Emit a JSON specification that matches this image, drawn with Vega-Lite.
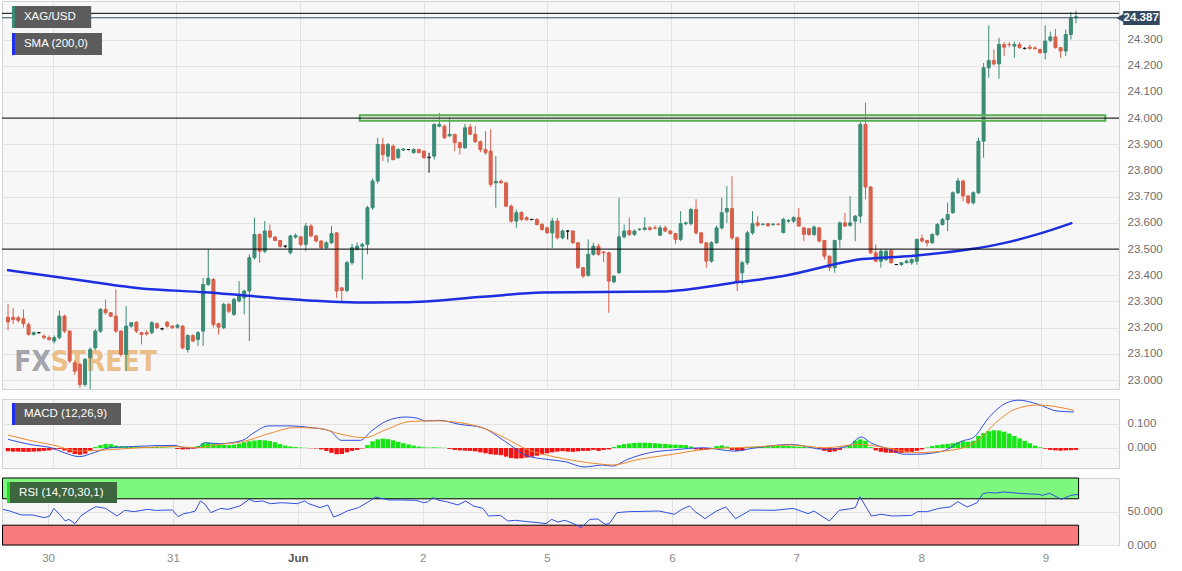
{
"$schema": "https://vega.github.io/schema/vega-lite/v6.json",
"padding": 0,
"background": "#ffffff",
"spacing": 7,
"config": {
 "view": {"stroke": "#cfd3d9", "fill": "#f7f7f7"},
 "font": "Liberation Sans",
 "axis": {"domain": false, "ticks": false, "gridColor": "#e3e3e3", "labelColor": "#6e6e6e", "labelFontSize": 11.5, "labelFont": "Liberation Sans", "labelFlush": false, "labelOverlap": false}
},
"datasets": {
 "one": [{}],
 "candles": [
{"k":0,"o":23.24,"h":23.29,"l":23.19,"c":23.222,"hist":-0.014},
{"k":1,"o":23.24,"h":23.276,"l":23.214,"c":23.231,"hist":-0.015},
{"k":2,"o":23.238,"h":23.245,"l":23.22,"c":23.228,"hist":-0.015},
{"k":3,"o":23.234,"h":23.27,"l":23.2,"c":23.215,"hist":-0.016},
{"k":4,"o":23.212,"h":23.22,"l":23.17,"c":23.174,"hist":-0.016},
{"k":5,"o":23.174,"h":23.185,"l":23.17,"c":23.181,"hist":-0.015},
{"k":6,"o":23.181,"h":23.183,"l":23.178,"c":23.181,"hist":-0.014},
{"k":7,"o":23.168,"h":23.175,"l":23.155,"c":23.162,"hist":-0.012},
{"k":8,"o":23.162,"h":23.17,"l":23.15,"c":23.155,"hist":-0.01},
{"k":9,"o":23.149,"h":23.17,"l":23.14,"c":23.162,"hist":-0.006},
{"k":10,"o":23.162,"h":23.265,"l":23.155,"c":23.244,"hist":-0.004},
{"k":11,"o":23.244,"h":23.25,"l":23.18,"c":23.187,"hist":-0.01},
{"k":12,"o":23.187,"h":23.19,"l":23.065,"c":23.073,"hist":-0.018},
{"k":13,"o":23.066,"h":23.075,"l":23.02,"c":23.034,"hist":-0.025},
{"k":14,"o":23.06,"h":23.065,"l":22.97,"c":22.983,"hist":-0.028},
{"k":15,"o":22.983,"h":23.085,"l":22.975,"c":23.079,"hist":-0.024},
{"k":16,"o":23.085,"h":23.125,"l":22.96,"c":23.117,"hist":-0.012},
{"k":17,"o":23.123,"h":23.195,"l":23.115,"c":23.187,"hist":0.004},
{"k":18,"o":23.187,"h":23.275,"l":23.18,"c":23.27,"hist":0.012},
{"k":19,"o":23.27,"h":23.308,"l":23.25,"c":23.257,"hist":0.017},
{"k":20,"o":23.257,"h":23.26,"l":23.24,"c":23.244,"hist":0.016},
{"k":21,"o":23.244,"h":23.346,"l":23.18,"c":23.187,"hist":0.01},
{"k":22,"o":23.187,"h":23.19,"l":23.09,"c":23.098,"hist":0.007},
{"k":23,"o":23.098,"h":23.282,"l":23.034,"c":23.206,"hist":0.006},
{"k":24,"o":23.206,"h":23.22,"l":23.2,"c":23.219,"hist":0.005},
{"k":25,"o":23.221,"h":23.225,"l":23.18,"c":23.187,"hist":0.004},
{"k":26,"o":23.181,"h":23.185,"l":23.136,"c":23.174,"hist":0.004},
{"k":27,"o":23.181,"h":23.19,"l":23.17,"c":23.176,"hist":0.003},
{"k":28,"o":23.181,"h":23.225,"l":23.175,"c":23.219,"hist":0.004},
{"k":29,"o":23.215,"h":23.22,"l":23.195,"c":23.2,"hist":0.004},
{"k":30,"o":23.196,"h":23.2,"l":23.19,"c":23.196,"hist":0.003},
{"k":31,"o":23.221,"h":23.225,"l":23.2,"c":23.206,"hist":0.002},
{"k":32,"o":23.206,"h":23.21,"l":23.195,"c":23.2,"hist":0.001},
{"k":33,"o":23.202,"h":23.215,"l":23.196,"c":23.209,"hist":-0.004},
{"k":34,"o":23.206,"h":23.21,"l":23.117,"c":23.123,"hist":-0.006},
{"k":35,"o":23.117,"h":23.175,"l":23.105,"c":23.17,"hist":-0.005},
{"k":36,"o":23.17,"h":23.175,"l":23.145,"c":23.149,"hist":-0.003},
{"k":37,"o":23.155,"h":23.187,"l":23.13,"c":23.181,"hist":0.008},
{"k":38,"o":23.187,"h":23.39,"l":23.13,"c":23.365,"hist":0.02},
{"k":39,"o":23.365,"h":23.5,"l":23.36,"c":23.388,"hist":0.022},
{"k":40,"o":23.384,"h":23.39,"l":23.2,"c":23.212,"hist":0.018},
{"k":41,"o":23.215,"h":23.22,"l":23.174,"c":23.202,"hist":0.014},
{"k":42,"o":23.2,"h":23.295,"l":23.195,"c":23.289,"hist":0.013},
{"k":43,"o":23.289,"h":23.295,"l":23.255,"c":23.263,"hist":0.012},
{"k":44,"o":23.251,"h":23.315,"l":23.245,"c":23.308,"hist":0.014},
{"k":45,"o":23.302,"h":23.378,"l":23.297,"c":23.327,"hist":0.018},
{"k":46,"o":23.314,"h":23.345,"l":23.251,"c":23.34,"hist":0.024},
{"k":47,"o":23.34,"h":23.48,"l":23.149,"c":23.467,"hist":0.028},
{"k":48,"o":23.467,"h":23.62,"l":23.46,"c":23.556,"hist":0.031},
{"k":49,"o":23.556,"h":23.56,"l":23.448,"c":23.492,"hist":0.033},
{"k":50,"o":23.492,"h":23.607,"l":23.485,"c":23.569,"hist":0.032},
{"k":51,"o":23.569,"h":23.594,"l":23.54,"c":23.546,"hist":0.029},
{"k":52,"o":23.546,"h":23.55,"l":23.53,"c":23.533,"hist":0.024},
{"k":53,"o":23.533,"h":23.535,"l":23.505,"c":23.511,"hist":0.016},
{"k":54,"o":23.511,"h":23.515,"l":23.505,"c":23.511,"hist":0.01},
{"k":55,"o":23.486,"h":23.555,"l":23.48,"c":23.55,"hist":0.006},
{"k":56,"o":23.546,"h":23.56,"l":23.54,"c":23.552,"hist":0.004},
{"k":57,"o":23.547,"h":23.55,"l":23.51,"c":23.518,"hist":0.002},
{"k":58,"o":23.518,"h":23.6,"l":23.492,"c":23.588,"hist":0.001},
{"k":59,"o":23.588,"h":23.595,"l":23.545,"c":23.55,"hist":-0.001},
{"k":60,"o":23.55,"h":23.555,"l":23.525,"c":23.531,"hist":-0.002},
{"k":61,"o":23.531,"h":23.535,"l":23.5,"c":23.505,"hist":-0.006},
{"k":62,"o":23.505,"h":23.53,"l":23.5,"c":23.524,"hist":-0.012},
{"k":63,"o":23.524,"h":23.588,"l":23.52,"c":23.559,"hist":-0.02},
{"k":64,"o":23.562,"h":23.565,"l":23.314,"c":23.34,"hist":-0.026},
{"k":65,"o":23.352,"h":23.355,"l":23.295,"c":23.342,"hist":-0.025},
{"k":66,"o":23.342,"h":23.455,"l":23.335,"c":23.448,"hist":-0.018},
{"k":67,"o":23.448,"h":23.52,"l":23.44,"c":23.505,"hist":-0.012},
{"k":68,"o":23.499,"h":23.525,"l":23.495,"c":23.511,"hist":-0.008},
{"k":69,"o":23.511,"h":23.524,"l":23.384,"c":23.518,"hist":-0.002},
{"k":70,"o":23.518,"h":23.665,"l":23.48,"c":23.658,"hist":0.012},
{"k":71,"o":23.658,"h":23.77,"l":23.65,"c":23.76,"hist":0.028},
{"k":72,"o":23.76,"h":23.925,"l":23.75,"c":23.899,"hist":0.036},
{"k":73,"o":23.899,"h":23.925,"l":23.836,"c":23.861,"hist":0.039},
{"k":74,"o":23.855,"h":23.905,"l":23.83,"c":23.899,"hist":0.037},
{"k":75,"o":23.893,"h":23.9,"l":23.838,"c":23.842,"hist":0.032},
{"k":76,"o":23.849,"h":23.885,"l":23.845,"c":23.88,"hist":0.026},
{"k":77,"o":23.878,"h":23.885,"l":23.875,"c":23.882,"hist":0.02},
{"k":78,"o":23.88,"h":23.882,"l":23.877,"c":23.88,"hist":0.015},
{"k":79,"o":23.868,"h":23.885,"l":23.865,"c":23.88,"hist":0.01},
{"k":80,"o":23.88,"h":23.883,"l":23.865,"c":23.868,"hist":0.006},
{"k":81,"o":23.874,"h":23.877,"l":23.845,"c":23.849,"hist":0.003},
{"k":82,"o":23.85,"h":23.868,"l":23.791,"c":23.85,"hist":0.002},
{"k":83,"o":23.855,"h":23.98,"l":23.842,"c":23.976,"hist":0.003},
{"k":84,"o":23.969,"h":24.02,"l":23.965,"c":23.976,"hist":0.002},
{"k":85,"o":23.969,"h":23.975,"l":23.92,"c":23.925,"hist":0.001},
{"k":86,"o":23.932,"h":24.004,"l":23.93,"c":23.938,"hist":-0.004},
{"k":87,"o":23.938,"h":23.94,"l":23.874,"c":23.906,"hist":-0.008},
{"k":88,"o":23.906,"h":23.91,"l":23.861,"c":23.887,"hist":-0.01},
{"k":89,"o":23.887,"h":23.978,"l":23.882,"c":23.963,"hist":-0.011},
{"k":90,"o":23.966,"h":23.978,"l":23.935,"c":23.938,"hist":-0.012},
{"k":91,"o":23.938,"h":23.97,"l":23.905,"c":23.91,"hist":-0.014},
{"k":92,"o":23.91,"h":23.915,"l":23.87,"c":23.88,"hist":-0.018},
{"k":93,"o":23.88,"h":23.95,"l":23.86,"c":23.868,"hist":-0.022},
{"k":94,"o":23.874,"h":23.957,"l":23.737,"c":23.747,"hist":-0.026},
{"k":95,"o":23.753,"h":23.855,"l":23.658,"c":23.759,"hist":-0.028},
{"k":96,"o":23.759,"h":23.765,"l":23.75,"c":23.753,"hist":-0.03},
{"k":97,"o":23.753,"h":23.757,"l":23.66,"c":23.664,"hist":-0.036},
{"k":98,"o":23.664,"h":23.67,"l":23.6,"c":23.607,"hist":-0.042},
{"k":99,"o":23.607,"h":23.651,"l":23.581,"c":23.639,"hist":-0.044},
{"k":100,"o":23.639,"h":23.645,"l":23.608,"c":23.613,"hist":-0.043},
{"k":101,"o":23.62,"h":23.625,"l":23.608,"c":23.612,"hist":-0.04},
{"k":102,"o":23.613,"h":23.616,"l":23.61,"c":23.613,"hist":-0.036},
{"k":103,"o":23.613,"h":23.618,"l":23.59,"c":23.594,"hist":-0.032},
{"k":104,"o":23.594,"h":23.6,"l":23.57,"c":23.575,"hist":-0.027},
{"k":105,"o":23.581,"h":23.587,"l":23.558,"c":23.562,"hist":-0.022},
{"k":106,"o":23.562,"h":23.62,"l":23.505,"c":23.607,"hist":-0.018},
{"k":107,"o":23.607,"h":23.62,"l":23.537,"c":23.543,"hist":-0.015},
{"k":108,"o":23.543,"h":23.575,"l":23.537,"c":23.569,"hist":-0.013},
{"k":109,"o":23.569,"h":23.572,"l":23.537,"c":23.569,"hist":-0.015},
{"k":110,"o":23.569,"h":23.572,"l":23.52,"c":23.524,"hist":-0.016},
{"k":111,"o":23.524,"h":23.527,"l":23.425,"c":23.429,"hist":-0.014},
{"k":112,"o":23.429,"h":23.432,"l":23.39,"c":23.397,"hist":-0.012},
{"k":113,"o":23.4,"h":23.537,"l":23.395,"c":23.48,"hist":-0.012},
{"k":114,"o":23.48,"h":23.525,"l":23.475,"c":23.511,"hist":-0.008},
{"k":115,"o":23.511,"h":23.52,"l":23.475,"c":23.48,"hist":-0.012},
{"k":116,"o":23.489,"h":23.492,"l":23.45,"c":23.486,"hist":-0.008},
{"k":117,"o":23.486,"h":23.49,"l":23.257,"c":23.378,"hist":-0.006},
{"k":118,"o":23.375,"h":23.4,"l":23.37,"c":23.397,"hist":0.004},
{"k":119,"o":23.41,"h":23.696,"l":23.405,"c":23.547,"hist":0.012},
{"k":120,"o":23.547,"h":23.594,"l":23.54,"c":23.569,"hist":0.016},
{"k":121,"o":23.571,"h":23.62,"l":23.55,"c":23.556,"hist":0.019},
{"k":122,"o":23.556,"h":23.575,"l":23.55,"c":23.569,"hist":0.021},
{"k":123,"o":23.575,"h":23.58,"l":23.57,"c":23.576,"hist":0.022},
{"k":124,"o":23.575,"h":23.622,"l":23.57,"c":23.581,"hist":0.022},
{"k":125,"o":23.581,"h":23.588,"l":23.57,"c":23.575,"hist":0.021},
{"k":126,"o":23.581,"h":23.59,"l":23.575,"c":23.58,"hist":0.02},
{"k":127,"o":23.553,"h":23.59,"l":23.55,"c":23.581,"hist":0.018},
{"k":128,"o":23.581,"h":23.59,"l":23.565,"c":23.569,"hist":0.017},
{"k":129,"o":23.569,"h":23.572,"l":23.555,"c":23.559,"hist":0.015},
{"k":130,"o":23.559,"h":23.562,"l":23.52,"c":23.537,"hist":0.014},
{"k":131,"o":23.537,"h":23.645,"l":23.53,"c":23.597,"hist":0.013},
{"k":132,"o":23.597,"h":23.605,"l":23.59,"c":23.6,"hist":0.012},
{"k":133,"o":23.597,"h":23.658,"l":23.59,"c":23.651,"hist":0.006},
{"k":134,"o":23.651,"h":23.69,"l":23.555,"c":23.562,"hist":-0.006},
{"k":135,"o":23.562,"h":23.565,"l":23.52,"c":23.524,"hist":-0.009},
{"k":136,"o":23.524,"h":23.527,"l":23.429,"c":23.454,"hist":-0.008},
{"k":137,"o":23.454,"h":23.53,"l":23.448,"c":23.524,"hist":-0.004},
{"k":138,"o":23.524,"h":23.59,"l":23.52,"c":23.581,"hist":0.008},
{"k":139,"o":23.581,"h":23.696,"l":23.575,"c":23.639,"hist":0.011},
{"k":140,"o":23.642,"h":23.74,"l":23.6,"c":23.655,"hist":0.006},
{"k":141,"o":23.655,"h":23.778,"l":23.535,"c":23.543,"hist":-0.008},
{"k":142,"o":23.543,"h":23.547,"l":23.34,"c":23.378,"hist":-0.012},
{"k":143,"o":23.41,"h":23.455,"l":23.365,"c":23.448,"hist":-0.01},
{"k":144,"o":23.448,"h":23.57,"l":23.44,"c":23.562,"hist":0.003},
{"k":145,"o":23.562,"h":23.645,"l":23.555,"c":23.597,"hist":0.005},
{"k":146,"o":23.6,"h":23.625,"l":23.585,"c":23.591,"hist":0.006},
{"k":147,"o":23.594,"h":23.6,"l":23.59,"c":23.595,"hist":0.007},
{"k":148,"o":23.597,"h":23.6,"l":23.585,"c":23.589,"hist":0.008},
{"k":149,"o":23.594,"h":23.6,"l":23.588,"c":23.595,"hist":0.008},
{"k":150,"o":23.595,"h":23.6,"l":23.59,"c":23.594,"hist":0.009},
{"k":151,"o":23.563,"h":23.62,"l":23.56,"c":23.613,"hist":0.009},
{"k":152,"o":23.607,"h":23.615,"l":23.6,"c":23.609,"hist":0.008},
{"k":153,"o":23.607,"h":23.625,"l":23.6,"c":23.62,"hist":0.007},
{"k":154,"o":23.62,"h":23.657,"l":23.585,"c":23.588,"hist":0.006},
{"k":155,"o":23.581,"h":23.585,"l":23.53,"c":23.556,"hist":0.004},
{"k":156,"o":23.578,"h":23.58,"l":23.55,"c":23.556,"hist":0.003},
{"k":157,"o":23.556,"h":23.59,"l":23.55,"c":23.584,"hist":0.001},
{"k":158,"o":23.581,"h":23.585,"l":23.525,"c":23.531,"hist":-0.004},
{"k":159,"o":23.533,"h":23.535,"l":23.46,"c":23.473,"hist":-0.012},
{"k":160,"o":23.473,"h":23.475,"l":23.416,"c":23.429,"hist":-0.017},
{"k":161,"o":23.429,"h":23.535,"l":23.41,"c":23.533,"hist":-0.014},
{"k":162,"o":23.537,"h":23.605,"l":23.505,"c":23.6,"hist":-0.008},
{"k":163,"o":23.6,"h":23.639,"l":23.585,"c":23.588,"hist":0.002},
{"k":164,"o":23.591,"h":23.702,"l":23.585,"c":23.6,"hist":0.012},
{"k":165,"o":23.607,"h":23.63,"l":23.53,"c":23.626,"hist":0.03},
{"k":166,"o":23.626,"h":23.985,"l":23.6,"c":23.976,"hist":0.036},
{"k":167,"o":23.976,"h":24.059,"l":23.69,"c":23.737,"hist":0.03},
{"k":168,"o":23.737,"h":23.74,"l":23.48,"c":23.486,"hist":0.004},
{"k":169,"o":23.486,"h":23.518,"l":23.45,"c":23.454,"hist":-0.01},
{"k":170,"o":23.454,"h":23.5,"l":23.429,"c":23.492,"hist":-0.016},
{"k":171,"o":23.46,"h":23.5,"l":23.455,"c":23.492,"hist":-0.019},
{"k":172,"o":23.495,"h":23.5,"l":23.445,"c":23.448,"hist":-0.02},
{"k":173,"o":23.441,"h":23.443,"l":23.439,"c":23.441,"hist":-0.021},
{"k":174,"o":23.441,"h":23.45,"l":23.435,"c":23.448,"hist":-0.02},
{"k":175,"o":23.448,"h":23.46,"l":23.445,"c":23.454,"hist":-0.019},
{"k":176,"o":23.448,"h":23.465,"l":23.44,"c":23.46,"hist":-0.016},
{"k":177,"o":23.454,"h":23.54,"l":23.44,"c":23.537,"hist":-0.012},
{"k":178,"o":23.54,"h":23.556,"l":23.525,"c":23.531,"hist":-0.006},
{"k":179,"o":23.533,"h":23.535,"l":23.51,"c":23.524,"hist":0.002},
{"k":180,"o":23.524,"h":23.56,"l":23.52,"c":23.556,"hist":0.008},
{"k":181,"o":23.556,"h":23.6,"l":23.55,"c":23.594,"hist":0.012},
{"k":182,"o":23.594,"h":23.62,"l":23.59,"c":23.613,"hist":0.015},
{"k":183,"o":23.613,"h":23.677,"l":23.569,"c":23.632,"hist":0.017},
{"k":184,"o":23.639,"h":23.72,"l":23.635,"c":23.715,"hist":0.02},
{"k":185,"o":23.715,"h":23.772,"l":23.71,"c":23.76,"hist":0.024},
{"k":186,"o":23.76,"h":23.765,"l":23.683,"c":23.703,"hist":0.028},
{"k":187,"o":23.703,"h":23.705,"l":23.67,"c":23.677,"hist":0.026},
{"k":188,"o":23.677,"h":23.72,"l":23.67,"c":23.715,"hist":0.03},
{"k":189,"o":23.715,"h":23.925,"l":23.71,"c":23.912,"hist":0.05},
{"k":190,"o":23.912,"h":24.21,"l":23.849,"c":24.192,"hist":0.062},
{"k":191,"o":24.192,"h":24.354,"l":24.154,"c":24.22,"hist":0.07},
{"k":192,"o":24.22,"h":24.262,"l":24.2,"c":24.207,"hist":0.074},
{"k":193,"o":24.207,"h":24.307,"l":24.15,"c":24.281,"hist":0.073},
{"k":194,"o":24.281,"h":24.29,"l":24.237,"c":24.271,"hist":0.068},
{"k":195,"o":24.281,"h":24.29,"l":24.27,"c":24.28,"hist":0.06},
{"k":196,"o":24.275,"h":24.292,"l":24.23,"c":24.281,"hist":0.05},
{"k":197,"o":24.281,"h":24.29,"l":24.265,"c":24.269,"hist":0.04},
{"k":198,"o":24.266,"h":24.27,"l":24.262,"c":24.266,"hist":0.03},
{"k":199,"o":24.271,"h":24.281,"l":24.262,"c":24.266,"hist":0.02},
{"k":200,"o":24.268,"h":24.275,"l":24.262,"c":24.265,"hist":0.01},
{"k":201,"o":24.262,"h":24.265,"l":24.245,"c":24.25,"hist":0.003},
{"k":202,"o":24.25,"h":24.354,"l":24.224,"c":24.294,"hist":-0.003},
{"k":203,"o":24.297,"h":24.33,"l":24.29,"c":24.31,"hist":-0.008},
{"k":204,"o":24.31,"h":24.34,"l":24.265,"c":24.269,"hist":-0.01},
{"k":205,"o":24.269,"h":24.272,"l":24.23,"c":24.256,"hist":-0.011},
{"k":206,"o":24.256,"h":24.338,"l":24.237,"c":24.319,"hist":-0.01},
{"k":207,"o":24.319,"h":24.405,"l":24.3,"c":24.382,"hist":-0.009},
{"k":208,"o":24.383,"h":24.41,"l":24.362,"c":24.387,"hist":-0.008}
 ],
 "sma": [
{"k":-0.2,"v":23.42},{"k":12.7,"v":23.385},{"k":25.5,"v":23.351},{"k":38.4,"v":23.335},{"k":57.7,"v":23.305},{"k":67.9,"v":23.296},{"k":77,"v":23.297},{"k":92.5,"v":23.318},{"k":104,"v":23.334},{"k":127.2,"v":23.338},{"k":142.7,"v":23.375},{"k":150.4,"v":23.395},{"k":166.4,"v":23.462},{"k":176,"v":23.474},{"k":187.6,"v":23.5},{"k":193,"v":23.519},{"k":200.6,"v":23.557},{"k":207.3,"v":23.6}
 ],
 "macd": [
{"k":0,"v":0.036},{"k":4.2,"v":0.015},{"k":8.7,"v":-0.001},{"k":11,"v":-0.02},{"k":13.9,"v":-0.036},{"k":16.8,"v":-0.019},{"k":19.8,"v":0.001},{"k":24.2,"v":0.006},{"k":32.3,"v":0.011},{"k":34.6,"v":0.001},{"k":36.8,"v":0.001},{"k":38.3,"v":0.022},{"k":41.2,"v":0.018},{"k":45.7,"v":0.032},{"k":47.9,"v":0.064},{"k":50.8,"v":0.092},{"k":54.5,"v":0.092},{"k":59,"v":0.085},{"k":62.7,"v":0.071},{"k":64.9,"v":0.032},{"k":68.6,"v":0.032},{"k":70.8,"v":0.071},{"k":73.8,"v":0.113},{"k":77.5,"v":0.129},{"k":79.7,"v":0.124},{"k":81.2,"v":0.113},{"k":84.1,"v":0.115},{"k":87.8,"v":0.099},{"k":92.3,"v":0.085},{"k":96.7,"v":0.029},{"k":101.1,"v":-0.033},{"k":104.8,"v":-0.047},{"k":108.5,"v":-0.057},{"k":112.2,"v":-0.079},{"k":115.8,"v":-0.071},{"k":117.7,"v":-0.075},{"k":120.7,"v":-0.047},{"k":125.1,"v":-0.019},{"k":129.6,"v":-0.008},{"k":135.5,"v":0.001},{"k":141.4,"v":-0.013},{"k":145.1,"v":-0.001},{"k":152.5,"v":0.015},{"k":159.1,"v":-0.006},{"k":163.6,"v":0.008},{"k":166.2,"v":0.046},{"k":168,"v":0.022},{"k":171,"v":-0.001},{"k":174.7,"v":-0.026},{"k":176.9,"v":-0.026},{"k":182.1,"v":-0.013},{"k":185.8,"v":0.029},{"k":188,"v":0.043},{"k":191,"v":0.126},{"k":194.6,"v":0.189},{"k":196.9,"v":0.199},{"k":200.6,"v":0.182},{"k":204.3,"v":0.154},{"k":207.6,"v":0.15}
 ],
 "signal": [
{"k":0,"v":0.054},{"k":4.2,"v":0.032},{"k":8.7,"v":0.0125},{"k":13.9,"v":-0.0125},{"k":19,"v":-0.008},{"k":25.7,"v":0.001},{"k":32.3,"v":0.006},{"k":36.8,"v":0.001},{"k":41.2,"v":0.015},{"k":45.7,"v":0.026},{"k":50.8,"v":0.06},{"k":56,"v":0.085},{"k":60.5,"v":0.082},{"k":64.9,"v":0.057},{"k":69.3,"v":0.043},{"k":73.8,"v":0.078},{"k":78.2,"v":0.11},{"k":83.4,"v":0.113},{"k":87.8,"v":0.106},{"k":92.3,"v":0.085},{"k":96.7,"v":0.043},{"k":101.1,"v":-0.006},{"k":105.6,"v":-0.033},{"k":110.7,"v":-0.054},{"k":115.8,"v":-0.068},{"k":117.7,"v":-0.071},{"k":122.9,"v":-0.047},{"k":129.6,"v":-0.026},{"k":135.5,"v":-0.006},{"k":145.1,"v":0.004},{"k":152.5,"v":0.0125},{"k":159.1,"v":0.001},{"k":165.8,"v":0.015},{"k":171,"v":0.001},{"k":176.9,"v":-0.019},{"k":183.5,"v":-0.01},{"k":188.7,"v":0.029},{"k":192.4,"v":0.106},{"k":196.1,"v":0.161},{"k":200.6,"v":0.179},{"k":207.6,"v":0.157}
 ],
 "rsi": [
{"k":0,"v":54},{"k":1.3,"v":51.5},{"k":3.5,"v":45.5},{"k":5.7,"v":45.5},{"k":8,"v":41.4},{"k":9,"v":43.9},{"k":9.8,"v":55.5},{"k":10.9,"v":46.5},{"k":12,"v":36.4},{"k":12.7,"v":38.9},{"k":13.9,"v":32.3},{"k":15,"v":43.9},{"k":16.4,"v":51.5},{"k":17.9,"v":58.1},{"k":19.8,"v":55.5},{"k":22,"v":43.9},{"k":23.5,"v":52.5},{"k":25.3,"v":50.5},{"k":27.9,"v":54},{"k":29.4,"v":52.5},{"k":32.7,"v":53},{"k":33.8,"v":42.9},{"k":34.9,"v":47.5},{"k":36,"v":49},{"k":37.1,"v":51.5},{"k":38.1,"v":66.7},{"k":39,"v":61.6},{"k":40.1,"v":49},{"k":42,"v":55.5},{"k":43.4,"v":54},{"k":45.7,"v":59.1},{"k":47.5,"v":69.2},{"k":48.6,"v":65.6},{"k":50.1,"v":66.7},{"k":51.6,"v":62.6},{"k":53.8,"v":64.1},{"k":56.8,"v":62.6},{"k":58.2,"v":66.7},{"k":59,"v":62.6},{"k":61.2,"v":56.6},{"k":62.7,"v":60.6},{"k":63.8,"v":42.4},{"k":64.9,"v":45.5},{"k":66.4,"v":51.5},{"k":68.6,"v":56.6},{"k":70.8,"v":66.7},{"k":71.9,"v":72.7},{"k":73,"v":70.7},{"k":74.5,"v":68.2},{"k":76.7,"v":68.2},{"k":79.7,"v":67.7},{"k":81.2,"v":64.1},{"k":81.9,"v":65.1},{"k":83,"v":71.7},{"k":84.1,"v":67.7},{"k":85.6,"v":65.6},{"k":87.8,"v":60.6},{"k":89.3,"v":66.7},{"k":90.8,"v":59.1},{"k":92.6,"v":55.5},{"k":93.7,"v":43.9},{"k":96,"v":44.9},{"k":97.4,"v":36.4},{"k":98.9,"v":37.4},{"k":101.1,"v":35.4},{"k":103.4,"v":33.8},{"k":104.8,"v":32.3},{"k":105.9,"v":38.9},{"k":107.1,"v":34.8},{"k":108.5,"v":37.4},{"k":110.4,"v":31.3},{"k":111.6,"v":26.3},{"k":113.3,"v":38.9},{"k":114.8,"v":39.4},{"k":116.2,"v":31.3},{"k":117,"v":32.3},{"k":118.5,"v":49},{"k":120.7,"v":50.5},{"k":126.6,"v":51.5},{"k":129.6,"v":46.5},{"k":131,"v":54},{"k":132.5,"v":59.1},{"k":133.6,"v":50.5},{"k":135.5,"v":39.9},{"k":137.7,"v":51.5},{"k":139.5,"v":57.6},{"k":141.4,"v":39.9},{"k":144.3,"v":53},{"k":148.8,"v":52.5},{"k":152.5,"v":55.5},{"k":155.4,"v":47.5},{"k":156.5,"v":51.5},{"k":159.5,"v":36.4},{"k":161.4,"v":52.5},{"k":163.6,"v":55},{"k":164.5,"v":56.6},{"k":165.4,"v":73.2},{"k":167.6,"v":43.9},{"k":169.5,"v":46.5},{"k":171.7,"v":43.9},{"k":175.4,"v":44.9},{"k":176.5,"v":50.5},{"k":178.4,"v":50.5},{"k":180.6,"v":55.5},{"k":182.8,"v":57.6},{"k":184.3,"v":65.6},{"k":186.1,"v":57.6},{"k":188,"v":64.1},{"k":189.1,"v":77.8},{"k":190.2,"v":79.3},{"k":191.7,"v":78.8},{"k":193.2,"v":80.3},{"k":196.9,"v":77.8},{"k":199.8,"v":76.8},{"k":200.6,"v":75.2},{"k":202,"v":78.3},{"k":204.3,"v":69.2},{"k":206.1,"v":75.2},{"k":207.6,"v":76.8}
 ]
},
"vconcat": [
 {
  "width": 1117, "height": 388,
  "layer": [
   {"data": {"name": "one"}, "mark": {"type": "text", "text": "FX", "align": "left", "baseline": "alphabetic", "font": "DejaVu Sans Condensed, sans-serif", "fontWeight": "bold", "fontSize": 28, "color": "#9c9ca4", "opacity": 0.9},
    "encoding": {
     "x": {"datum": 1.2, "type": "quantitative", "scale": {"domain": [-0.2, 215.4], "nice": false, "zero": false},
       "axis": {"values": [8.7, 32.8, 56.9, 81, 105, 129.1, 153.1, 177.2, 201.2], "labels": false, "grid": true, "title": null}},
     "y": {"datum": 23.034, "type": "quantitative", "scale": {"domain": [22.966, 24.447], "nice": false, "zero": false},
       "axis": {"orient": "right", "tickCount": 15, "values": [23.0, 23.1, 23.2, 23.3, 23.4, 23.5, 23.6, 23.7, 23.8, 23.9, 24.0, 24.1, 24.2, 24.3], "format": ".3f", "grid": true, "title": null, "labelPadding": 8, "labelOverlap": false, "labelBound": false, "labelSeparation": 0, "labelFontSize": 11.5}}
    }},
   {"data": {"name": "one"}, "mark": {"type": "text", "text": "STREET", "align": "left", "baseline": "alphabetic", "font": "DejaVu Sans Condensed, sans-serif", "fontWeight": "bold", "fontSize": 28, "color": "#ebb97e", "opacity": 0.9},
    "encoding": {"x": {"datum": 8.3}, "y": {"datum": 23.034}}},
   {"data": {"name": "candles"},
    "mark": {"type": "rule", "strokeWidth": 1, "clip": true},
    "encoding": {
     "x": {"field": "k", "type": "quantitative"},
     "y": {"field": "l", "type": "quantitative"},
     "y2": {"field": "h"},
     "color": {"condition": [{"test": "datum.c > datum.o", "value": "#3b8b76"}, {"test": "datum.c < datum.o", "value": "#d9604b"}], "value": "#111111"}
    }},
   {"data": {"name": "candles"},
    "mark": {"type": "bar", "width": 3, "strokeWidth": 1, "clip": true},
    "encoding": {
     "x": {"field": "k", "type": "quantitative"},
     "y": {"field": "o", "type": "quantitative"},
     "y2": {"field": "c"},
     "fill": {"condition": [{"test": "datum.c > datum.o", "value": "#3b8b76"}, {"test": "datum.c < datum.o", "value": "#d9604b"}], "value": "#111111"},
     "stroke": {"condition": [{"test": "datum.c > datum.o", "value": "#3b8b76"}, {"test": "datum.c < datum.o", "value": "#d9604b"}], "value": "#111111"}
    }},
   {"data": {"name": "sma"},
    "mark": {"type": "line", "color": "#1c2fe0", "strokeWidth": 2.5, "interpolate": "monotone", "clip": true},
    "encoding": {"x": {"field": "k", "type": "quantitative"}, "y": {"field": "v", "type": "quantitative"}}},
   {"data": {"name": "one"}, "mark": {"type": "rect", "fill": "#dff3d6", "fillOpacity": 0.35, "stroke": "#55b04f", "strokeWidth": 2},
    "encoding": {"x": {"datum": 68.5}, "x2": {"datum": 213.7}, "y": {"datum": 23.99}, "y2": {"datum": 24.011}}},
   {"data": {"name": "one"}, "mark": {"type": "rule", "color": "#000000", "strokeWidth": 1}, "encoding": {"y": {"datum": 24.4}}},
   {"data": {"name": "one"}, "mark": {"type": "rule", "color": "#000000", "strokeWidth": 1}, "encoding": {"y": {"datum": 24.0}}},
   {"data": {"name": "one"}, "mark": {"type": "rule", "color": "#000000", "strokeWidth": 1}, "encoding": {"y": {"datum": 23.5}}},
   {"data": {"name": "one"}, "mark": {"type": "rule", "color": "#34495e", "strokeWidth": 1}, "encoding": {"y": {"datum": 24.383}}},
   {"data": {"name": "one"}, "mark": {"type": "rect", "fill": "#5c5c5c"},
    "encoding": {"x": {"datum": 0.77}, "x2": {"datum": 16.2}, "y": {"datum": 24.344}, "y2": {"datum": 24.428}}},
   {"data": {"name": "one"}, "mark": {"type": "rect", "fill": "#3b8b76"},
    "encoding": {"x": {"datum": 0.77}, "x2": {"datum": 1.35}, "y": {"datum": 24.344}, "y2": {"datum": 24.428}}},
   {"data": {"name": "one"}, "mark": {"type": "text", "text": "XAG/USD", "align": "left", "baseline": "middle", "fontSize": 11.5, "color": "#ffffff"},
    "encoding": {"x": {"datum": 3.1}, "y": {"datum": 24.386}}},
   {"data": {"name": "one"}, "mark": {"type": "rect", "fill": "#5c5c5c"},
    "encoding": {"x": {"datum": 0.77}, "x2": {"datum": 18.3}, "y": {"datum": 24.2405}, "y2": {"datum": 24.3245}}},
   {"data": {"name": "one"}, "mark": {"type": "rect", "fill": "#1f2ff0"},
    "encoding": {"x": {"datum": 0.77}, "x2": {"datum": 1.35}, "y": {"datum": 24.2405}, "y2": {"datum": 24.3245}}},
   {"data": {"name": "one"}, "mark": {"type": "text", "text": "SMA (200,0)", "align": "left", "baseline": "middle", "fontSize": 11.5, "color": "#ffffff"},
    "encoding": {"x": {"datum": 3.1}, "y": {"datum": 24.2825}}},
   {"data": {"name": "one"}, "mark": {"type": "rect", "fill": "#33475f", "clip": false},
    "encoding": {"x": {"datum": 217.2}, "x2": {"datum": 224.3}, "y": {"datum": 24.355}, "y2": {"datum": 24.4085}}},
   {"data": {"name": "one"}, "mark": {"type": "point", "shape": "triangle-left", "filled": true, "size": 70, "color": "#33475f", "opacity": 1, "clip": false},
    "encoding": {"x": {"datum": 216.6}, "y": {"datum": 24.382}}},
   {"data": {"name": "one"}, "mark": {"type": "text", "text": "24.387", "align": "center", "baseline": "middle", "fontSize": 11.5, "fontWeight": "bold", "color": "#ffffff", "clip": false},
    "encoding": {"x": {"datum": 220.7}, "y": {"datum": 24.382}}}
  ]
 },
 {
  "width": 1117, "height": 69,
  "layer": [
   {"data": {"name": "candles"},
    "mark": {"type": "bar", "width": 4.5},
    "encoding": {
     "x": {"field": "k", "type": "quantitative", "scale": {"domain": [-0.2, 215.4], "nice": false, "zero": false},
       "axis": {"values": [8.7, 32.8, 56.9, 81, 105, 129.1, 153.1, 177.2, 201.2], "labels": false, "grid": true, "title": null}},
     "y": {"field": "hist", "type": "quantitative", "scale": {"domain": [-0.0833, 0.204], "nice": false, "zero": false},
       "axis": {"orient": "right", "values": [0, 0.1], "format": ".3f", "grid": true, "title": null, "labelPadding": 8, "labelOverlap": false}},
     "y2": {"datum": 0},
     "color": {"condition": {"test": "datum.hist >= 0", "value": "#16e616"}, "value": "#f21414"}
    }},
   {"data": {"name": "macd"},
    "mark": {"type": "line", "color": "#2f4fe0", "strokeWidth": 1, "interpolate": "monotone"},
    "encoding": {"x": {"field": "k", "type": "quantitative"}, "y": {"field": "v", "type": "quantitative"}}},
   {"data": {"name": "signal"},
    "mark": {"type": "line", "color": "#f0882c", "strokeWidth": 1, "interpolate": "monotone"},
    "encoding": {"x": {"field": "k", "type": "quantitative"}, "y": {"field": "v", "type": "quantitative"}}},
   {"data": {"name": "one"}, "mark": {"type": "rect", "fill": "#5c5c5c"},
    "encoding": {"x": {"datum": 0.77}, "x2": {"datum": 22.0}, "y": {"datum": 0.0958}, "y2": {"datum": 0.1875}}},
   {"data": {"name": "one"}, "mark": {"type": "rect", "fill": "#1f2ff0"},
    "encoding": {"x": {"datum": 0.77}, "x2": {"datum": 1.35}, "y": {"datum": 0.0958}, "y2": {"datum": 0.1875}}},
   {"data": {"name": "one"}, "mark": {"type": "text", "text": "MACD (12,26,9)", "align": "left", "baseline": "middle", "fontSize": 11.5, "color": "#ffffff"},
    "encoding": {"x": {"datum": 3.1}, "y": {"datum": 0.1417}}}
  ]
 },
 {
  "width": 1117, "height": 67,
  "layer": [
   {"data": {"name": "one"}, "mark": {"type": "rect", "fill": "#7ef77e", "stroke": "#000000", "strokeWidth": 1},
    "encoding": {
     "x": {"datum": -0.1, "type": "quantitative", "scale": {"domain": [-0.2, 215.4], "nice": false, "zero": false},
       "axis": {"values": [8.7, 32.8, 56.9, 81, 105, 129.1, 153.1, 177.2, 201.2], "grid": true, "title": null, "labelPadding": 7, "labelFontSize": 11.5, "labelOverlap": false,
         "labelExpr": "datum.value < 20 ? '30' : datum.value < 45 ? '31' : datum.value < 70 ? 'Jun' : datum.value < 90 ? '2' : datum.value < 115 ? '5' : datum.value < 140 ? '6' : datum.value < 165 ? '7' : datum.value < 190 ? '8' : '9'",
         "labelColor": {"condition": {"test": "datum.value > 50 && datum.value < 60", "value": "#555555"}, "value": "#8a8a8a"},
         "labelFontWeight": {"condition": {"test": "datum.value > 50 && datum.value < 60", "value": "bold"}, "value": "normal"}}},
     "x2": {"datum": 207.6},
     "y": {"datum": 70, "type": "quantitative", "scale": {"domain": [0, 101.5], "nice": false, "zero": false},
       "axis": {"orient": "right", "values": [0, 50], "format": ".3f", "grid": true, "title": null, "labelPadding": 8, "labelOverlap": false}},
     "y2": {"datum": 101.5}
    }},
   {"data": {"name": "one"}, "mark": {"type": "rect", "fill": "#f77b7b", "stroke": "#000000", "strokeWidth": 1},
    "encoding": {"x": {"datum": -0.1}, "x2": {"datum": 207.6}, "y": {"datum": 0}, "y2": {"datum": 30}}},
   {"data": {"name": "rsi"},
    "mark": {"type": "line", "color": "#2f4fe0", "strokeWidth": 1},
    "encoding": {"x": {"field": "k", "type": "quantitative"}, "y": {"field": "v", "type": "quantitative"}}},
   {"data": {"name": "one"}, "mark": {"type": "rect", "fill": "#3e663e"},
    "encoding": {"x": {"datum": 0.77}, "x2": {"datum": 22.0}, "y": {"datum": 63.6}, "y2": {"datum": 95.5}}},
   {"data": {"name": "one"}, "mark": {"type": "rect", "fill": "#22dd22"},
    "encoding": {"x": {"datum": 0.77}, "x2": {"datum": 1.35}, "y": {"datum": 63.6}, "y2": {"datum": 95.5}}},
   {"data": {"name": "one"}, "mark": {"type": "text", "text": "RSI (14,70,30,1)", "align": "left", "baseline": "middle", "fontSize": 11.5, "color": "#ffffff"},
    "encoding": {"x": {"datum": 3.1}, "y": {"datum": 79.5}}}
  ]
 }
]
}
